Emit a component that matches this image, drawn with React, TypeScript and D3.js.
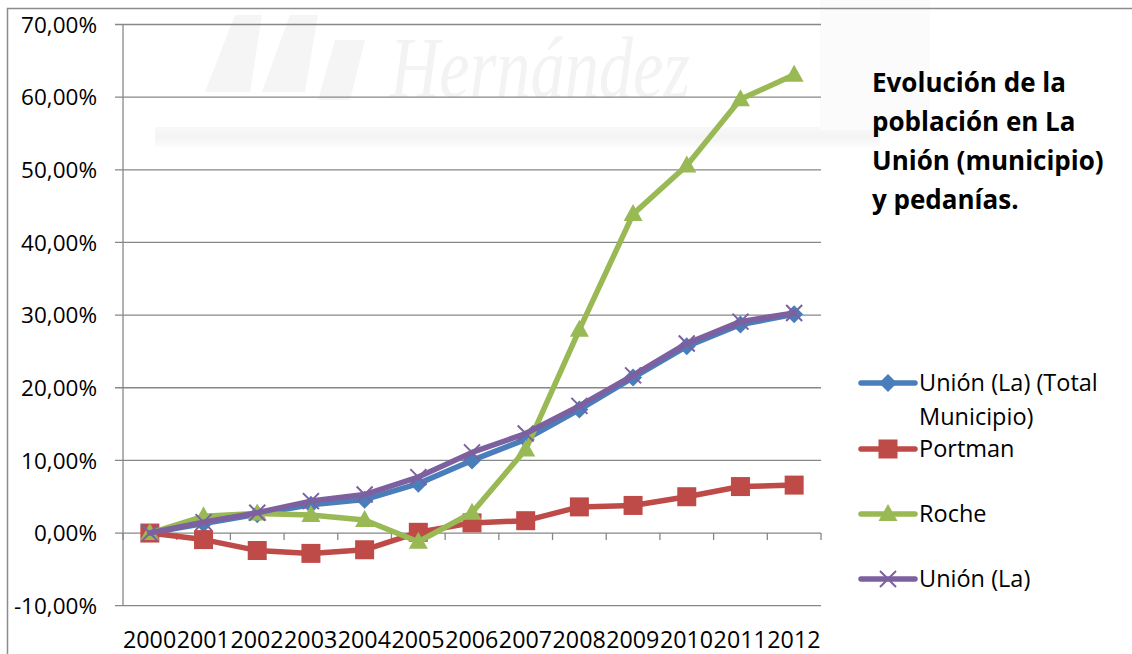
import React from "react";
import * as d3 from "d3";

// Population change relative to 2000 (percent)
const years = ["2000", "2001", "2002", "2003", "2004", "2005", "2006", "2007", "2008", "2009", "2010", "2011", "2012"];
const totalMunicipio = [0, 1.3, 2.6, 3.9, 4.6, 6.8, 10.0, 12.9, 17.0, 21.4, 25.7, 28.7, 30.1];
const portman = [0, -0.9, -2.4, -2.8, -2.3, 0.1, 1.4, 1.7, 3.6, 3.8, 5.0, 6.4, 6.6];
const roche = [0, 2.3, 2.7, 2.5, 1.8, -1.2, 2.8, 11.5, 28.0, 43.9, 50.6, 59.7, 63.1];
const unionLa = [0, 1.5, 2.8, 4.4, 5.3, 7.7, 11.1, 13.7, 17.5, 21.7, 26.1, 29.1, 30.3];
const yTicks = [-10, 0, 10, 20, 30, 40, 50, 60, 70];
const titleLines = ["Evolución de la", "población en La", "Unión (municipio)", "y pedanías."];

type Marker = "diamond" | "square" | "triangle" | "cross";
const series: { name: string[]; values: number[]; color: string; marker: Marker }[] = [
  { name: ["Unión (La) (Total", "Municipio)"], values: totalMunicipio, color: "#4A7EBB", marker: "diamond" },
  { name: ["Portman"], values: portman, color: "#BE4B48", marker: "square" },
  { name: ["Roche"], values: roche, color: "#98B954", marker: "triangle" },
  { name: ["Unión (La)"], values: unionLa, color: "#7D60A0", marker: "cross" },
];

const W = 1132;
const H = 654;
const plot = { left: 123, right: 821, top: 24.5, bottom: 605.7 };
const FONT = "'Open Sans', sans-serif";

const locale = d3.formatLocale({ decimal: ",", thousands: ".", grouping: [3], currency: ["", "€"], minus: "-" });
const fmt = locale.format(".2%");

function MarkerShape({ type, x, y, color }: { type: Marker; x: number; y: number; color: string }) {
  if (type === "diamond") {
    const r = 9;
    return <path d={`M${x},${y - r}L${x + r},${y}L${x},${y + r}L${x - r},${y}Z`} fill={color} />;
  }
  if (type === "square") {
    const s = 9.5;
    return <rect x={x - s} y={y - s} width={2 * s} height={2 * s} fill={color} />;
  }
  if (type === "triangle") {
    return <path d={`M${x},${y - 10}L${x + 9.5},${y + 7}L${x - 9.5},${y + 7}Z`} fill={color} />;
  }
  const r = 8;
  return (
    <path
      d={`M${x - r},${y - r}L${x + r},${y + r}M${x - r},${y + r}L${x + r},${y - r}`}
      stroke={color}
      strokeWidth={2}
      fill="none"
    />
  );
}

export default function App() {
  const x = d3.scaleBand<string>().domain(years).range([plot.left, plot.right]).paddingInner(0).paddingOuter(0);
  const y = d3.scaleLinear().domain([-10, 70]).range([plot.bottom, plot.top]);
  const cx = (yr: string) => (x(yr) as number) + x.bandwidth() / 2;
  const line = d3
    .line<number>()
    .x((_, i) => cx(years[i]))
    .y((v) => y(v));

  const boundaries = years.map((yr) => x(yr) as number).concat([plot.right]);
  const legendRows = [383, 449, 514, 579];

  return (
    <svg
      width={W}
      height={H}
      viewBox={`0 0 ${W} ${H}`}
      style={{ position: "fixed", left: 0, top: 0, background: "#fff" }}
      fontFamily={FONT}
    >
      <defs>
        <linearGradient id="band" x1="0" y1="0" x2="0" y2="1">
          <stop offset="0" stopColor="#f8f8f8" />
          <stop offset="0.5" stopColor="#f3f3f3" />
          <stop offset="1" stopColor="#fcfcfc" />
        </linearGradient>
      </defs>

      {/* faint background watermark */}
      <g>
        <rect x={155} y={127} width={725} height={20} fill="url(#band)" />
        <rect x={820} y={0} width={110} height={130} fill="#fbfbfb" />
        <text
          x={390}
          y={97}
          fontFamily="'Liberation Serif', serif"
          fontStyle="italic"
          fontSize={86}
          textLength={300}
          lengthAdjust="spacingAndGlyphs"
          fill="#f3f3f3"
        >
          Hernández
        </text>
        <path d="M205,92L235,15L262,15L250,92Z M262,92L290,15L318,15L305,92Z M318,100L335,40L365,40L350,100Z" fill="#f5f5f5" />
      </g>

      {/* outer frame */}
      <rect x={7.5} y={8.5} width={W + 20} height={H + 20} fill="none" stroke="#8c8c8c" strokeWidth={1.5} />

      {/* gridlines and y ticks */}
      {yTicks.map((t) => (
        <line key={t} x1={plot.left - 8} x2={plot.right} y1={y(t)} y2={y(t)} stroke="#878787" strokeWidth={1.3} />
      ))}
      {/* y axis */}
      <line x1={plot.left} x2={plot.left} y1={plot.top} y2={plot.bottom} stroke="#878787" strokeWidth={1.3} />
      {/* x axis tick marks at category boundaries */}
      {boundaries.map((bx, i) => (
        <line key={i} x1={bx} x2={bx} y1={y(0)} y2={y(0) + 7} stroke="#878787" strokeWidth={1.3} />
      ))}

      {/* y tick labels */}
      {yTicks.map((t) => (
        <text key={t} x={97} y={y(t)} dy="0.36em" textAnchor="end" fontSize={22.5} fill="#000">
          {fmt(t / 100)}
        </text>
      ))}

      {/* x tick labels */}
      {years.map((yr) => (
        <text
          key={yr}
          x={x(yr) as number}
          y={648}
          fontSize={23.5}
          textLength={x.bandwidth() - 0.5}
          lengthAdjust="spacingAndGlyphs"
          fill="#000"
        >
          {yr}
        </text>
      ))}

      {/* series */}
      {series.map((s) => (
        <g key={s.name.join(" ")}>
          <path d={line(s.values) as string} fill="none" stroke={s.color} strokeWidth={5.5} strokeLinejoin="round" strokeLinecap="round" />
          {s.values.map((v, i) => (
            <MarkerShape key={i} type={s.marker} x={cx(years[i])} y={y(v)} color={s.color} />
          ))}
        </g>
      ))}

      {/* title */}
      <text fontSize={26} fontWeight="bold" fill="#000">
        {titleLines.map((l, i) => (
          <tspan key={i} x={872} y={92 + i * 39}>
            {l}
          </tspan>
        ))}
      </text>

      {/* legend */}
      {series.map((s, i) => {
        const ly = legendRows[i];
        return (
          <g key={i}>
            <line x1={861} x2={915} y1={ly} y2={ly} stroke={s.color} strokeWidth={5.5} strokeLinecap="round" />
            <MarkerShape type={s.marker} x={888} y={ly} color={s.color} />
            {s.name.map((n, j) => (
              <text key={j} x={919} y={ly + j * 33.5} dy="0.36em" fontSize={23.5} fill="#000">
                {n}
              </text>
            ))}
          </g>
        );
      })}
    </svg>
  );
}
